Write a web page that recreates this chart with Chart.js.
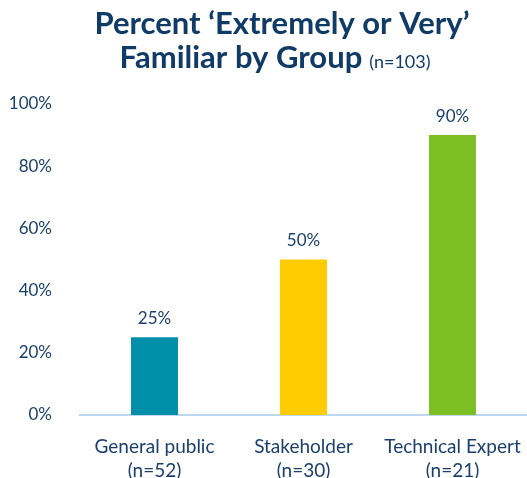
<!DOCTYPE html>
<html>
<head>
<meta charset="utf-8">
<script src="https://cdn.jsdelivr.net/npm/chart.js@4"></script>
<style>
  html, body { margin: 0; padding: 0; background: #fff; }
  #wrap { width: 527px; height: 478px; }
</style>
</head>
<body>
<div id="wrap"><canvas id="familiarChart" width="527" height="478"></canvas></div>
<script>
var categories = [['General public', '(n=52)'], ['Stakeholder', '(n=30)'], ['Technical Expert', '(n=21)']];
var percentValues = [25, 50, 90];
var barColors = ['#008FA8', '#FFCC00', '#7CBF22'];
var yTicks = [0, 20, 40, 60, 80, 100];
var titleLine1 = 'Percent \u2018Extremely or Very\u2019';
var titleLine2 = 'Familiar by Group';
var titleNote = '(n=103)';

var textColor = '#1B3F6B';
var fontFamily = 'Lato, "Open Sans", sans-serif';

// title with a smaller, non-bold note on the second line
var titlePlugin = {
    id: 'twoLineTitle',
    afterDraw: function(chart) {
        var c = chart.ctx;
        c.save();
        c.fillStyle = '#0F3B66';
        c.textBaseline = 'alphabetic';
        c.font = 'bold 31px ' + fontFamily;
        var w1 = c.measureText(titleLine1).width;
        c.fillText(titleLine1, 282 - w1 / 2, 34);
        var w2 = c.measureText(titleLine2).width;
        c.font = '18px ' + fontFamily;
        var w3 = c.measureText(titleNote).width;
        var x0 = 275 - (w2 + 7 + w3) / 2;
        c.font = 'bold 31px ' + fontFamily;
        c.fillText(titleLine2, x0, 68);
        c.font = '18px ' + fontFamily;
        c.fillText(titleNote, x0 + w2 + 7, 68);
        c.restore();
    }
};

// value labels above the bars
var valueLabels = {
    id: 'valueLabels',
    afterDatasetsDraw: function(chart) {
        var c = chart.ctx;
        var meta = chart.getDatasetMeta(0);
        c.save();
        c.fillStyle = textColor;
        c.font = '17px ' + fontFamily;
        c.textAlign = 'center';
        c.textBaseline = 'bottom';
        meta.data.forEach(function(bar, i) {
            c.fillText(percentValues[i] + '%', bar.x, bar.y - 10);
        });
        c.restore();
    }
};

var ctx = document.getElementById('familiarChart').getContext('2d');
var familiarChart = new Chart(ctx, {
    type: 'bar',
    data: {
        labels: categories,
        datasets: [{
            data: percentValues,
            backgroundColor: barColors,
            borderWidth: 0,
            barPercentage: 0.315,
            categoryPercentage: 1
        }]
    },
    options: {
        responsive: false,
        animation: false,
        scales: {
            x: {
                grid: {
                    display: false
                },
                border: {
                    display: true,
                    color: '#BDD7EE',
                    width: 2
                },
                afterFit: function(scale) {
                    scale.height = 63;
                    scale.paddingRight = 0;
                },
                ticks: {
                    color: textColor,
                    font: { family: fontFamily, size: 19, lineHeight: 1.25 },
                    padding: 12
                }
            },
            y: {
                min: 0,
                max: 100,
                grid: {
                    display: false
                },
                border: {
                    display: false
                },
                afterBuildTicks: function(scale) {
                    scale.ticks = yTicks.map(function(v) { return { value: v }; });
                },
                afterFit: function(scale) {
                    scale.width = 80;
                },
                ticks: {
                    color: textColor,
                    font: { family: fontFamily, size: 17 },
                    padding: 20,
                    callback: function(v) { return v + '%'; }
                }
            }
        },
        plugins: {
            legend: { display: false },
            tooltip: { enabled: false }
        },
        layout: {
            autoPadding: false,
            padding: {
                left: 0,
                right: 0,
                top: 104,
                bottom: 0
            }
        }
    },
    plugins: [titlePlugin, valueLabels]
});
</script>
</body>
</html>
